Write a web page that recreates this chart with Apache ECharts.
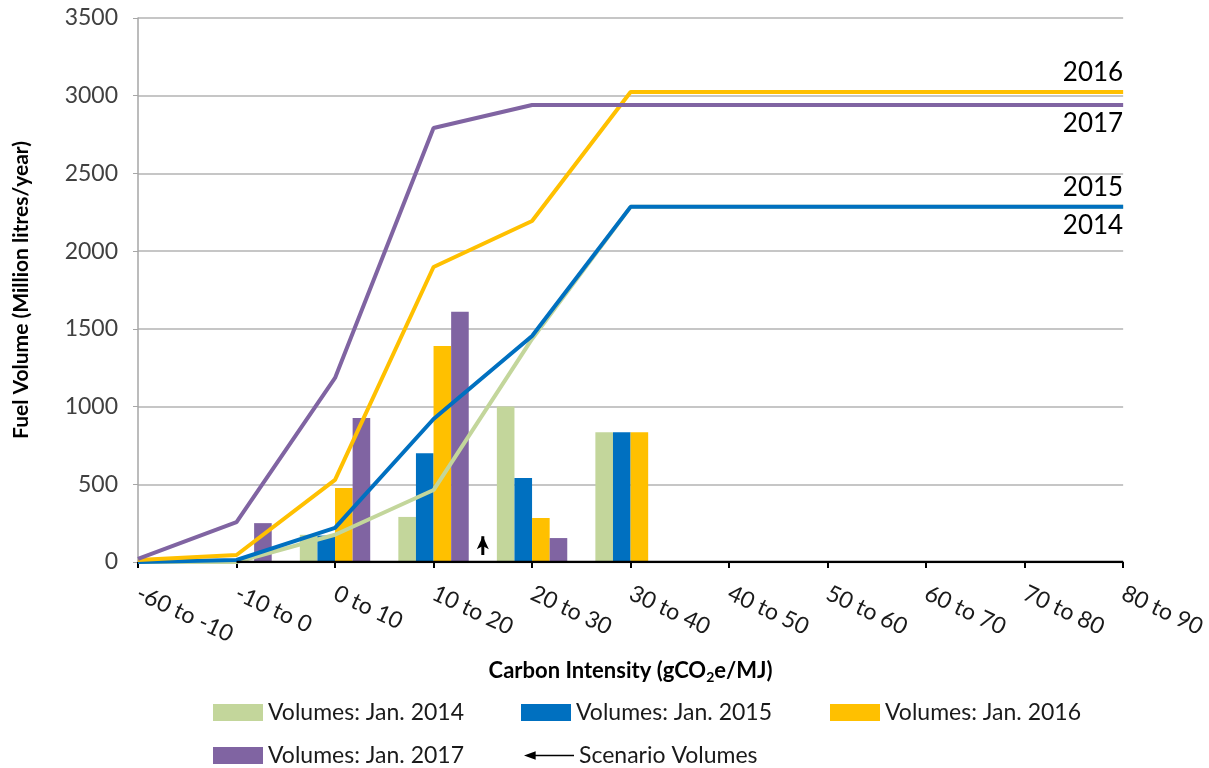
<!DOCTYPE html>
<html>
<head>
<meta charset="utf-8">
<title>Fuel Volume by Carbon Intensity</title>
<script src="https://cdn.jsdelivr.net/npm/echarts@6/dist/echarts.min.js"></script>
<style>
  html, body { margin: 0; padding: 0; background: #fff; }
  #chart { width: 1209px; height: 768px; }
</style>
</head>
<body>
<div id="chart"></div>
<script>
const categories = ['-60 to -10', '-10 to 0', '0 to 10', '10 to 20', '20 to 30', '30 to 40',
  '40 to 50', '50 to 60', '60 to 70', '70 to 80', '80 to 90'];

// bar volumes per carbon intensity bin
const bars2014 = [0, 0, 175, 290, 1000, 835, 0, 0, 0, 0, 0];
const bars2015 = [0, 0, 170, 700, 540, 835, 0, 0, 0, 0, 0];
const bars2016 = [0, 0, 476, 1390, 283, 835, 0, 0, 0, 0, 0];
const bars2017 = [0, 250, 926, 1610, 154, 0, 0, 0, 0, 0, 0];

// cumulative lines
const line2014 = [0, 0, 175, 463, 1435, 2285, 2285, 2285, 2285, 2285, 2285];
const line2015 = [0, 13, 219, 920, 1454, 2285, 2285, 2285, 2285, 2285, 2285];
const line2016 = [13, 45, 528, 1898, 2194, 3024, 3024, 3024, 3024, 3024, 3024];
const line2017 = [20, 257, 1184, 2792, 2940, 2940, 2940, 2940, 2940, 2940, 2940];

// scenario volumes: baseline and the arrow (x is a bin position, between 10 to 20 and 20 to 30)
const scenarioBase = ['-', 0, 0, 0, 0, 0, 0, 0, 0, 0, 0];
const scenarioArrow = [[3.5, 45], [3.5, 165]];

const yTicks = { min: 0, max: 3500, interval: 500 };

const FONT = 'Lato, "Open Sans", sans-serif';
const C2014 = '#C3D69B';
const C2015 = '#0070C0';
const C2016 = '#FFC000';
const C2017 = '#8064A2';

const chart = echarts.init(document.getElementById('chart'));

function endLabel(text, pos) {
  return {
    show: true,
    formatter: text,
    position: pos,
    align: 'right',
    distance: 6,
    color: '#000',
    fontSize: 26,
    fontFamily: FONT,
  };
}

function withEndLabel(values, text, pos) {
  const out = values.slice();
  const last = out.length - 1;
  out[last] = { value: out[last], label: endLabel(text, pos) };
  return out;
}

function barSeries(name, data, color) {
  return {
    name,
    type: 'bar',
    data,
    barWidth: 17.6,
    barGap: '0%',
    itemStyle: { color },
    z: 2,
  };
}

function lineSeries(name, data, color) {
  return {
    name,
    type: 'line',
    data,
    symbol: 'circle',
    symbolSize: 0,
    showSymbol: true,
    lineStyle: { color, width: 4 },
    itemStyle: { color },
    z: 3,
  };
}

const legendText = { fontSize: 23, color: '#1a1a1a', fontFamily: FONT };
function legendAt(name, left, top, extra) {
  return Object.assign({
    data: [name],
    left,
    top,
    padding: 0,
    icon: 'rect',
    itemWidth: 50,
    itemHeight: 17,
    itemGap: 0,
    textStyle: legendText,
    selectedMode: false,
  }, extra || {});
}

chart.setOption({
  animation: false,
  backgroundColor: '#fff',
  textStyle: { fontFamily: FONT },
  grid: { left: 138, right: 84, top: 18, bottom: 206 },
  legend: [
    legendAt('Volumes: Jan. 2014', 213, 701),
    legendAt('Volumes: Jan. 2015', 521, 701),
    legendAt('Volumes: Jan. 2016', 830, 701),
    legendAt('Volumes: Jan. 2017', 213, 744),
    legendAt('Scenario Volumes', 524, 744, {
      icon: 'path://M0,5 L14,0 L14,4 L60,4 L60,6 L14,6 L14,10 Z',
      itemWidth: 50,
      itemHeight: 10,
    }),
  ],
  xAxis: [
    {
      type: 'category',
      data: categories,
      boundaryGap: false,
      name: 'Carbon Intensity (gCO{s|2}e/MJ)',
      nameLocation: 'middle',
      nameGap: 96,
      nameTextStyle: {
        fontSize: 22,
        fontWeight: 'bold',
        color: '#000',
        fontFamily: FONT,
        rich: {
          s: { fontSize: 14, fontWeight: 'bold', color: '#000', fontFamily: FONT, padding: [12, 0, 0, 0] },
        },
      },
      axisLine: { lineStyle: { color: '#A6A6A6', width: 1.5 } },
      axisTick: { show: true, length: 6, lineStyle: { color: '#000', width: 2 } },
      axisLabel: {
        rotate: -25,
        margin: 30,
        fontSize: 23,
        color: '#1a1a1a',
        fontFamily: FONT,
        interval: 0,
      },
      splitLine: { show: false },
    },
    {
      type: 'value',
      min: 0,
      max: 10,
      show: false,
    },
  ],
  yAxis: {
    type: 'value',
    min: yTicks.min,
    max: yTicks.max,
    interval: yTicks.interval,
    name: 'Fuel Volume (Million litres/year)',
    nameLocation: 'middle',
    nameGap: 106,
    nameTextStyle: { fontSize: 21, fontWeight: 'bold', color: '#000', fontFamily: FONT },
    axisLine: { show: true, lineStyle: { color: '#A6A6A6', width: 1.5 } },
    axisTick: { show: true, length: 5, lineStyle: { color: '#A6A6A6' } },
    axisLabel: {
      fontSize: 23,
      color: '#404040',
      margin: 20,
      fontFamily: FONT,
      formatter: (v) => String(v),
    },
    splitLine: { lineStyle: { color: '#B3B3B3', width: 1.5 } },
  },
  series: [
    barSeries('Volumes: Jan. 2014', bars2014, C2014),
    barSeries('Volumes: Jan. 2015', bars2015, C2015),
    barSeries('Volumes: Jan. 2016', bars2016, C2016),
    barSeries('Volumes: Jan. 2017', bars2017, C2017),
    lineSeries('2014', withEndLabel(line2014, '2014', 'bottom'), C2014),
    lineSeries('2015', withEndLabel(line2015, '2015', 'top'), C2015),
    lineSeries('2016', withEndLabel(line2016, '2016', 'top'), C2016),
    lineSeries('2017', withEndLabel(line2017, '2017', 'bottom'), C2017),
    {
      name: 'Scenario Volumes',
      type: 'line',
      data: scenarioBase,
      showSymbol: false,
      symbol: 'none',
      lineStyle: { color: '#000', width: 2.5 },
      itemStyle: { color: '#000' },
      z: 4,
    },
    {
      name: 'Scenario arrow',
      type: 'line',
      xAxisIndex: 1,
      data: [
        { value: scenarioArrow[0], symbol: 'none' },
        { value: scenarioArrow[1], symbol: 'arrow', symbolSize: [9, 13] },
      ],
      showSymbol: true,
      lineStyle: { color: '#000', width: 3 },
      itemStyle: { color: '#000' },
      z: 4,
    },
  ],
});
</script>
</body>
</html>
